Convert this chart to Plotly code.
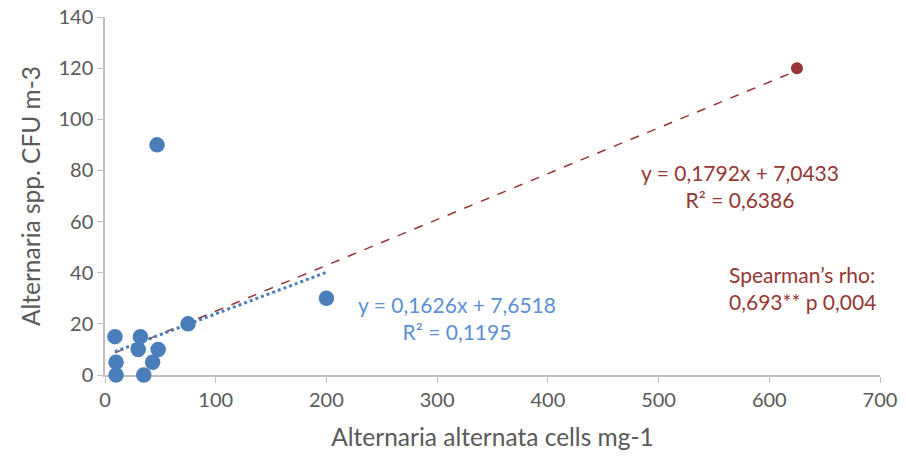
import plotly.graph_objects as go

# Data
blue_x = [9, 10, 10, 32, 30, 48, 43, 35, 75, 47, 200]
blue_y = [15, 5, 0, 15, 10, 10, 5, 0, 20, 90, 30]
red_x = [625]
red_y = [120]

# Trendline coefficients (as printed on the chart)
blue_slope, blue_icpt = 0.1626, 7.6518
red_slope, red_icpt = 0.1792, 7.0433

x_ticks = [0, 100, 200, 300, 400, 500, 600, 700]
y_ticks = [0, 20, 40, 60, 80, 100, 120, 140]

BLUE = "#4A7EBB"
BLUE_TXT = "#5B8FD6"
RED = "#943634"
FONT = "Lato"

all_x = blue_x + red_x
bx = [min(blue_x), max(blue_x)]
rx = [min(all_x), max(all_x)]

fig = go.Figure()
fig.add_trace(go.Scatter(x=rx, y=[red_slope * v + red_icpt for v in rx], mode="lines",
                         line=dict(color=RED, width=1.5, dash="dash"), hoverinfo="skip"))
fig.add_trace(go.Scatter(x=bx, y=[blue_slope * v + blue_icpt for v in bx], mode="lines",
                         line=dict(color=BLUE, width=3, dash="dot"), hoverinfo="skip"))
fig.add_trace(go.Scatter(x=blue_x, y=blue_y, mode="markers", cliponaxis=False,
                         marker=dict(color=BLUE, size=15.5, line=dict(width=0))))
fig.add_trace(go.Scatter(x=red_x, y=red_y, mode="markers", cliponaxis=False,
                         marker=dict(color=RED, size=12, line=dict(width=0))))

fig.update_layout(
    width=906, height=461,
    margin=dict(l=105, r=26, t=17, b=86),
    paper_bgcolor="white", plot_bgcolor="white",
    showlegend=False,
    font=dict(family=FONT, color="#595959", size=20),
)
fig.update_xaxes(range=[0, 700], tickvals=x_ticks, showgrid=False, zeroline=False,
                 showline=True, linecolor="#BFBFBF", linewidth=1.5, automargin=False,
                 ticks="outside", tickcolor="#BFBFBF", ticklen=6, ticklabeloverflow="allow",
                 layer="below traces",
                 title=dict(text="Alternaria alternata cells mg-1", font=dict(size=24.5), standoff=19))
fig.update_yaxes(range=[0, 140], tickvals=y_ticks, showgrid=False, zeroline=False,
                 showline=True, linecolor="#BFBFBF", linewidth=1.5, automargin=False,
                 ticks="outside", tickcolor="#BFBFBF", ticklen=6, ticklabeloverflow="allow",
                 layer="below traces",
                 title=dict(text="Alternaria spp. CFU m-3", font=dict(size=24.5), standoff=11))

ann = [
    ("y = 0,1626x + 7,6518<br>R² = 0,1195", 457, 318, BLUE_TXT, "center"),
    ("y = 0,1792x + 7,0433<br>R² = 0,6386", 740, 186, RED, "center"),
    ("Spearman’s rho:<br>0,693** p 0,004", 727, 288, RED, "left"),
]
for text, px, py, col, al in ann:
    fig.add_annotation(text=text, xref="paper", yref="paper",
                       x=(px - 105) / 775, y=(375 - py) / 358,
                       xanchor="center" if al == "center" else "left", yanchor="middle",
                       align=al, showarrow=False,
                       font=dict(size=21, color=col, family=FONT))

# remove the browser's default 8px body margin so the figure sits at the page origin
fig.write_html("out.html", config={"displayModeBar": False},
               post_script="document.body.style.margin='0';")
